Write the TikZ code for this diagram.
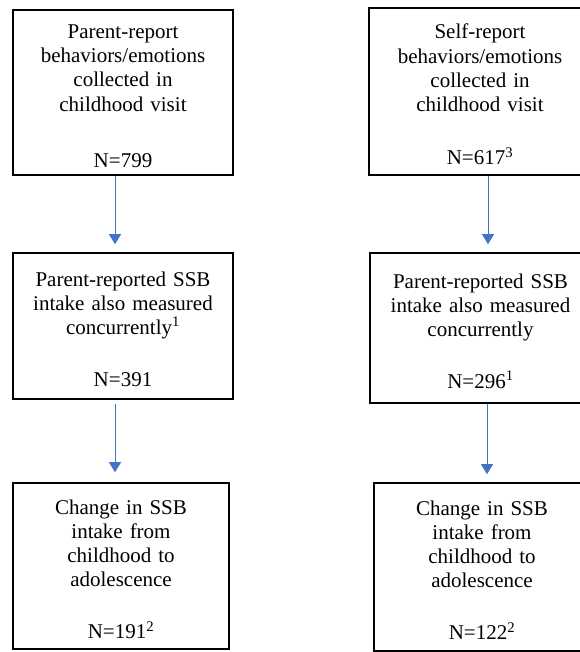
\documentclass[tikz,border=0pt]{standalone}
\usepackage{fontspec}
\setmainfont{Liberation Serif}
\usetikzlibrary{arrows.meta}

\definecolor{flowblue}{RGB}{68,114,196}
\newcommand{\topgap}{\rule{0pt}{21pt}}

\tikzset{
  stage/.style={draw, line width=1.6pt, align=center, text width=204pt,
    inner sep=0pt, font=\fontsize{21}{24.2}\selectfont},
  flow/.style={draw=flowblue, line width=0.9pt,
    -{Triangle[width=12pt,length=10pt]}}
}

\begin{document}
\begin{tikzpicture}[x=1pt,y=-1pt]
  \useasboundingbox (0,0) rectangle (579,652);

  % left column: parent report
  \node[stage, minimum width=220pt, minimum height=165pt] (left1) at (123,92.5)
    {\topgap Parent-report\\behaviors/emotions\\collected in\\childhood visit\\[32pt]N=799};
  \node[stage, minimum width=220pt, minimum height=146pt] (left2) at (123,326)
    {\topgap Parent-reported SSB\\intake also measured\\concurrently\textsuperscript{1}\\[28pt]N=391};
  \node[stage, minimum width=216pt, minimum height=166pt] (left3) at (121,566)
    {\topgap Change in SSB\\intake from\\childhood to\\adolescence\\[28pt]N=191\textsuperscript{2}};

  % right column: self report
  \node[stage, minimum width=222pt, minimum height=167pt] (right1) at (480,91.5)
    {\topgap Self-report\\behaviors/emotions\\collected in\\childhood visit\\[29pt]N=617\textsuperscript{3}};
  \node[stage, minimum width=221pt, minimum height=150pt] (right2) at (480.5,328)
    {\topgap Parent-reported SSB\\intake also measured\\concurrently\\[27pt]N=296\textsuperscript{1}};
  \node[stage, minimum width=216pt, minimum height=168pt] (right3) at (482,567)
    {\topgap Change in SSB\\intake from\\childhood to\\adolescence\\[28pt]N=122\textsuperscript{2}};

  % arrows
  \draw[flow, shorten >=8pt] ([xshift=-8pt]left1.south) -- ([xshift=-8pt]left2.north);
  \draw[flow, shorten <=4pt, shorten >=10pt] ([xshift=-8pt]left2.south) -- ([xshift=-6pt]left3.north);
  \draw[flow, shorten >=8pt] ([xshift=8pt]right1.south) -- ([xshift=7.5pt]right2.north);
  \draw[flow, shorten >=8pt] ([xshift=6.5pt]right2.south) -- ([xshift=5pt]right3.north);
\end{tikzpicture}
\end{document}
